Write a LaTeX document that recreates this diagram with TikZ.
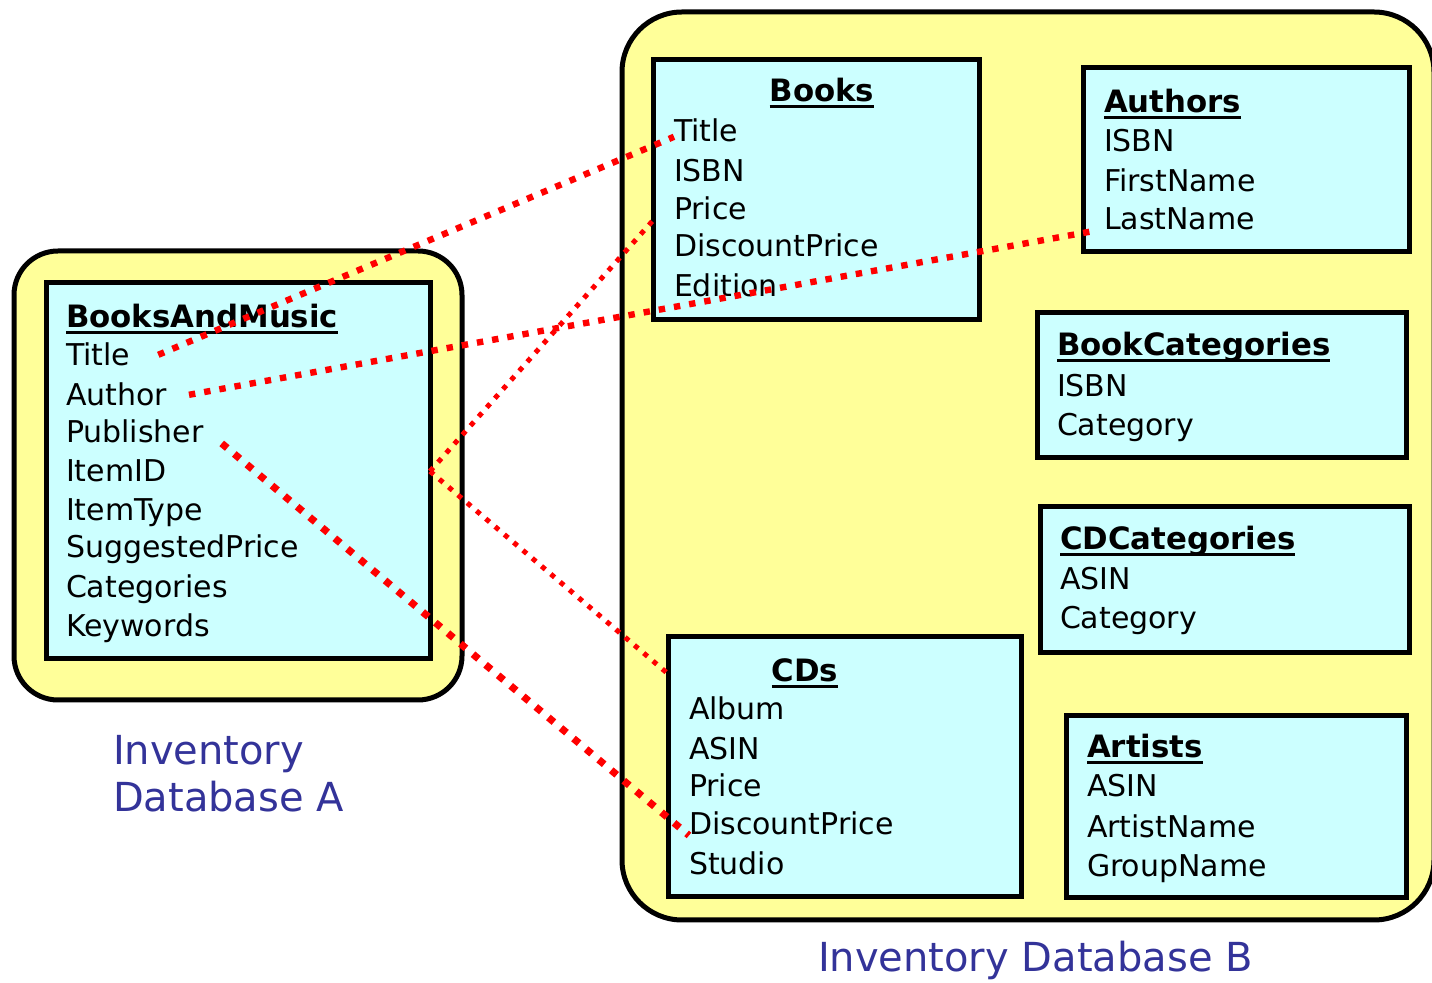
\documentclass[tikz,border=0pt]{standalone}
\usepackage{fontspec}
\setmainfont{DejaVu Sans}
\usetikzlibrary{fit}
\definecolor{dbfill}{RGB}{255,255,153}
\definecolor{tblfill}{RGB}{204,255,255}
\definecolor{lblblue}{RGB}{51,51,153}
% bold table heading with a heavy underline
\newcommand\ulhead[1]{\setbox0=\hbox{\bfseries #1}\rlap{\rule[-3.25pt]{\wd0}{1.5pt}}\box0}
\tikzset{
  db/.style={draw=black, line width=2.5pt, fill=dbfill, inner sep=0pt, outer sep=0pt},
  tbl/.style={draw=black, line width=2.5pt, fill=tblfill, inner sep=0pt, outer sep=0pt},
  fld/.style={anchor=base west, inner sep=0pt, outer sep=0pt, font=\fontsize{15pt}{18pt}\selectfont},
  hdr/.style={fld, font=\fontsize{15.4pt}{18pt}\selectfont\bfseries},
  hdrc/.style={hdr, anchor=base},
  lbl/.style={anchor=base west, inner sep=0pt, outer sep=0pt, text=lblblue, font=\fontsize{20pt}{24pt}\selectfont},
  link/.style={draw=red, line width=3.2pt, dash pattern=on 3.2pt off 4.5pt},
  linkthin/.style={link, line width=2.5pt, dash pattern=on 2.5pt off 3.6pt},
  linkthick/.style={link, line width=3.6pt, dash pattern=on 3.6pt off 4.6pt},
}
\begin{document}
\begin{tikzpicture}[x=0.5pt,y=-0.5pt]
\useasboundingbox (0,0) rectangle (1432,983);

% database containers
\node[db, rounded corners=22pt, fit={(14,251) (462,700)}] (dbA) {};
\node[db, rounded corners=30pt, fit={(622,12) (1434,920)}] (dbB) {};

% tables
\node[tbl, fit={(46,283) (430,659)}] (bm) {};
\node[tbl, fit={(653,60) (979,320)}] (books) {};
\node[tbl, fit={(1083,68) (1409,252)}] (authors) {};
\node[tbl, fit={(1037,313) (1406,458)}] (bookcat) {};
\node[tbl, fit={(1040,507) (1409,653)}] (cdcat) {};
\node[tbl, fit={(668,637) (1021,897)}] (cds) {};
\node[tbl, fit={(1066,716) (1406,898)}] (artists) {};

% BooksAndMusic
\node[hdr] (bmh) at (66,328) {\ulhead{BooksAndMusic}};
\foreach \t/\y [count=\i] in {Title/366,Author/406,Publisher/443,ItemID/482,ItemType/521,SuggestedPrice/558,Categories/598,Keywords/637}
  \node[fld] (bm-\i) at (66,\y) {\t};

% Books
\node[hdrc] (bkh) at (822,102) {\ulhead{Books}};
\foreach \t/\y [count=\i] in {Title/142,ISBN/182,Price/220,DiscountPrice/257,Edition/297}
  \node[fld] (bk-\i) at (674,\y) {\t};

% Authors
\node[hdr] (auh) at (1104,113) {\ulhead{Authors}};
\foreach \t/\y [count=\i] in {ISBN/152,FirstName/192,LastName/230}
  \node[fld] (au-\i) at (1104,\y) {\t};

% BookCategories
\node[hdr] (bch) at (1057,356) {\ulhead{BookCategories}};
\foreach \t/\y [count=\i] in {ISBN/397,Category/436}
  \node[fld] (bc-\i) at (1057,\y) {\t};

% CDCategories
\node[hdr] (cch) at (1060,550) {\ulhead{CDCategories}};
\foreach \t/\y [count=\i] in {ASIN/590,Category/629}
  \node[fld] (cc-\i) at (1060,\y) {\t};

% CDs
\node[hdrc] (cdh) at (805,682) {\ulhead{CDs}};
\foreach \t/\y [count=\i] in {Album/720,ASIN/760,Price/797,DiscountPrice/835,Studio/875}
  \node[fld] (cd-\i) at (689,\y) {\t};

% Artists
\node[hdr] (arh) at (1087,758) {\ulhead{Artists}};
\foreach \t/\y [count=\i] in {ASIN/797,ArtistName/838,GroupName/877}
  \node[fld] (ar-\i) at (1087,\y) {\t};

% database labels
\node[lbl] (labA1) at (113,765) {Inventory};
\node[lbl] (labA2) at (113,812) {Database A};
\node[lbl] (labB) at (818,972) {Inventory Database B};

% attribute correspondences
\draw[link] ([xshift=14pt]bm-1.east) -- ([yshift=-3pt]bk-1.west);
\draw[link] ([xshift=11pt]bm-2.east) -- ([xshift=-3.5pt]au-3.south west);
\draw[linkthin] (bm.east |- bm-4) -- (books.west |- bk-3.south);
\draw[linkthin] (bm.east |- bm-4) -- (cds.west |- cdh);
\draw[linkthick] ([xshift=9pt]bm-3.south east) -- (cd-4.south west);
\end{tikzpicture}
\end{document}
